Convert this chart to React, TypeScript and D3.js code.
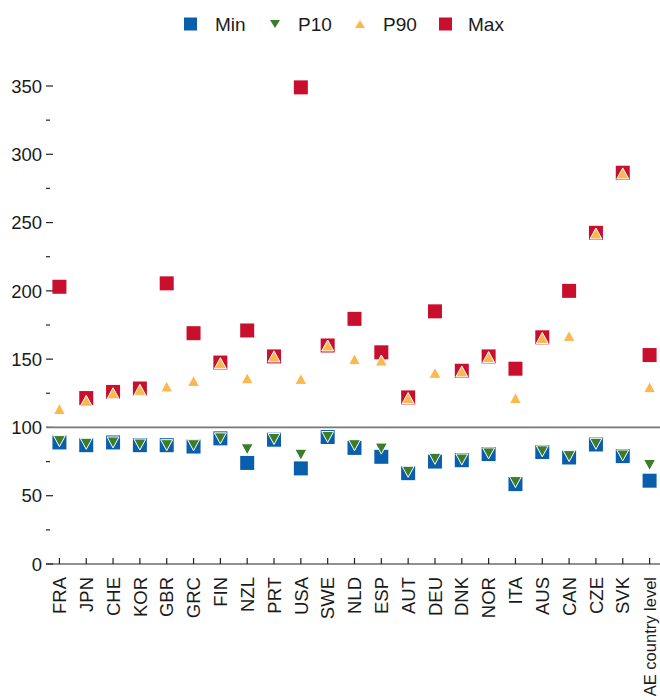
import React, { useRef, useEffect } from 'react';
import * as d3 from 'd3';

const categories = ['FRA', 'JPN', 'CHE', 'KOR', 'GBR', 'GRC', 'FIN', 'NZL', 'PRT', 'USA', 'SWE', 'NLD', 'ESP', 'AUT', 'DEU', 'DNK', 'NOR', 'ITA', 'AUS', 'CAN', 'CZE', 'SVK', 'AE country level'];
const minVals = [89, 87, 89, 87, 87, 86, 92, 74, 91, 70, 93, 85, 78.5, 66.5, 75, 76, 80.5, 58.5, 82, 78, 87.5, 79, 61];
const p10Vals = [90, 88, 89, 87.5, 87, 87, 92, 84, 91.5, 80, 93, 87, 84.5, 67.5, 77, 76.5, 81, 60, 82.5, 79, 88, 79.5, 72.5];
const p90Vals = [113.5, 119.5, 125, 127.5, 130, 134, 147, 136, 152, 135.5, 160, 150, 149, 121.5, 140, 141, 151.5, 121.5, 165.5, 167, 242, 286, 129.5];
const maxVals = [203, 121.5, 126, 128.5, 205.5, 169, 147.5, 171, 152, 349, 160, 179.5, 155, 122, 185, 141.5, 152, 143, 166, 200, 242.5, 286.5, 153];
const yTicks = [0, 50, 100, 150, 200, 250, 300, 350];
const yMinor = [25, 75, 125, 175, 225, 275, 325];

const colors = { min: '#0a5fac', p10: '#3b7d2a', p90: '#fbb84f', max: '#c8102e' };
const font = '"Liberation Sans", Arial, sans-serif';

const App: React.FC = () => {
  const svgRef = useRef<SVGSVGElement | null>(null);

  useEffect(() => {
    const svg = d3.select(svgRef.current!);
    svg.selectAll('*').remove();

    const x = d3.scalePoint<string>().domain(categories).range([46, 663]).padding(0.5);
    const y = d3.scaleLinear().domain([0, 350]).range([564, 86]);

    // y axis ticks and labels
    const yAx = svg.append('g');
    yAx.selectAll('line.major').data(yTicks).join('line')
      .attr('x1', 46).attr('x2', 53)
      .attr('y1', (d) => y(d)).attr('y2', (d) => y(d))
      .attr('stroke', '#222').attr('stroke-width', 1.2);
    yAx.selectAll('line.minor').data(yMinor).join('line')
      .attr('x1', 46).attr('x2', 50)
      .attr('y1', (d) => y(d)).attr('y2', (d) => y(d))
      .attr('stroke', '#222').attr('stroke-width', 1.2);
    yAx.selectAll('text').data(yTicks).join('text')
      .attr('x', 42).attr('y', (d) => y(d)).attr('dy', '0.36em')
      .attr('text-anchor', 'end')
      .attr('font-family', font).attr('font-size', 18.5).attr('fill', '#1a1a1a')
      .text((d) => d);

    // reference line at 100
    svg.append('line')
      .attr('x1', 46).attr('x2', 663)
      .attr('y1', y(100)).attr('y2', y(100))
      .attr('stroke', '#777').attr('stroke-width', 1.7);

    // x axis
    const xAx = svg.append('g');
    xAx.append('line')
      .attr('x1', 46).attr('x2', 663)
      .attr('y1', y(0)).attr('y2', y(0))
      .attr('stroke', '#222').attr('stroke-width', 1.2);
    xAx.selectAll('line.tick').data(categories).join('line')
      .attr('x1', (d) => x(d)!).attr('x2', (d) => x(d)!)
      .attr('y1', y(0) - 6).attr('y2', y(0))
      .attr('stroke', '#222').attr('stroke-width', 1.2);
    xAx.selectAll('text').data(categories).join('text')
      .attr('transform', (d) => `translate(${x(d)},577) rotate(-90)`)
      .attr('dy', '0.36em')
      .attr('text-anchor', 'end')
      .attr('font-family', font)
      .attr('font-size', (d) => (d.length > 3 ? 16.5 : 18.5))
      .attr('fill', '#1a1a1a')
      .text((d) => d);

    const sq = 14;
    const tw = 12;
    const th = 11;
    const up = `M0,${-th / 2}L${tw / 2},${th / 2}L${-tw / 2},${th / 2}Z`;
    const down = `M${-tw / 2},${-th / 2}L${tw / 2},${-th / 2}L0,${th / 2}Z`;

    const squares = (vals: number[], color: string) => {
      svg.append('g').selectAll('rect').data(vals).join('rect')
        .attr('x', (d, i) => x(categories[i])! - sq / 2)
        .attr('y', (d) => y(d) - sq / 2)
        .attr('width', sq).attr('height', sq)
        .attr('fill', color);
    };
    const triangles = (vals: number[], color: string, path: string) => {
      svg.append('g').selectAll('path').data(vals).join('path')
        .attr('transform', (d, i) => `translate(${x(categories[i])},${y(d)})`)
        .attr('d', path)
        .attr('fill', color)
        .attr('stroke', '#fff').attr('stroke-width', 1);
    };

    squares(maxVals, colors.max);
    squares(minVals, colors.min);
    triangles(p90Vals, colors.p90, up);
    triangles(p10Vals, colors.p10, down);

    // legend
    const leg = svg.append('g').attr('font-family', font).attr('font-size', 19).attr('fill', '#1a1a1a');
    const ly = 24;
    leg.append('rect').attr('x', 184).attr('y', ly - 6.5).attr('width', 13).attr('height', 13).attr('fill', colors.min);
    leg.append('text').attr('x', 215).attr('y', ly).attr('dy', '0.36em').text('Min');
    leg.append('path').attr('transform', `translate(275,${ly})`).attr('d', 'M-5,-4L5,-4L0,4Z').attr('fill', colors.p10);
    leg.append('text').attr('x', 298).attr('y', ly).attr('dy', '0.36em').text('P10');
    leg.append('path').attr('transform', `translate(360,${ly})`).attr('d', 'M0,-4L5,4L-5,4Z').attr('fill', colors.p90);
    leg.append('text').attr('x', 383).attr('y', ly).attr('dy', '0.36em').text('P90');
    leg.append('rect').attr('x', 439).attr('y', ly - 6.5).attr('width', 13).attr('height', 13).attr('fill', colors.max);
    leg.append('text').attr('x', 468).attr('y', ly).attr('dy', '0.36em').text('Max');
  }, []);

  return (
    <svg
      ref={svgRef}
      width={660}
      height={700}
      style={{ position: 'absolute', left: 0, top: 0, background: '#fff' }}
    />
  );
};

export default App;
